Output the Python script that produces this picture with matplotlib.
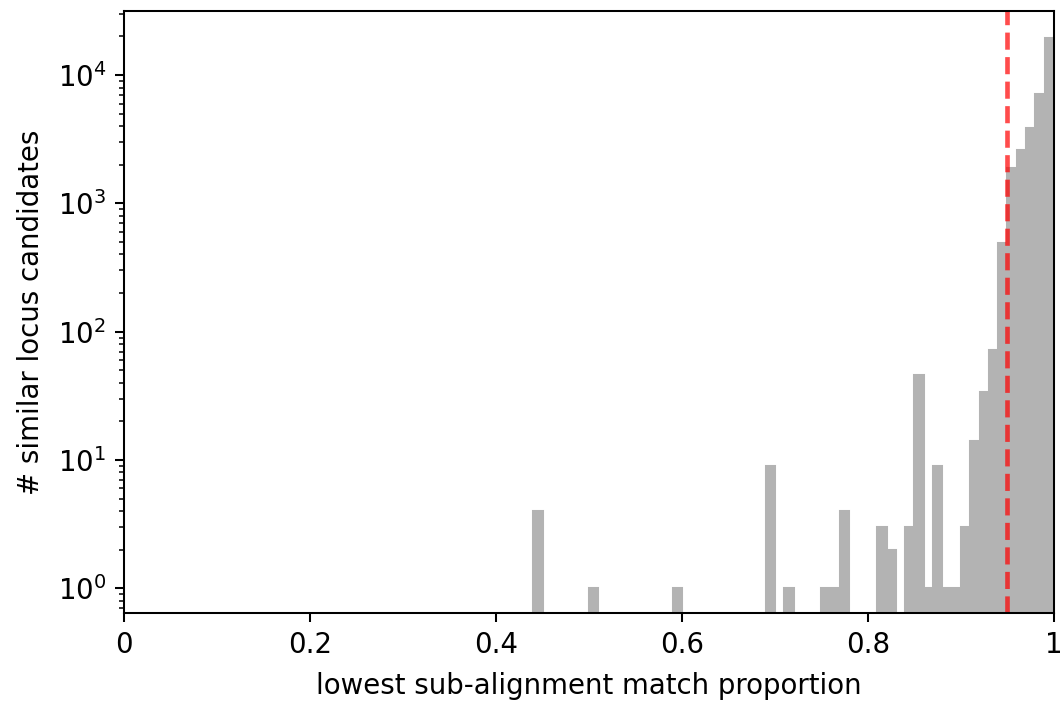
import numpy as np
import matplotlib
matplotlib.use("Agg")
import matplotlib.pyplot as plt
from matplotlib.ticker import FuncFormatter

# histogram bins (left edges, width 0.01) and counts
bin_starts = [0.44, 0.50, 0.59, 0.69, 0.71, 0.75, 0.76, 0.77, 0.81, 0.82,
              0.84, 0.85, 0.86, 0.87, 0.88, 0.89, 0.90, 0.91, 0.92, 0.93,
              0.94, 0.95, 0.96, 0.97, 0.98, 0.99]
counts = [4, 1, 1, 9, 1, 1, 1, 4, 3, 2,
          3, 46, 1, 9, 1, 1, 3, 14, 34, 72,
          494, 1878, 2610, 3890, 7130, 19550]
threshold = 0.95
x_ticks = [0, 0.2, 0.4, 0.6, 0.8, 1.0]

plt.rcParams['font.size'] = 10.75

dpi = 185
fig = plt.figure(figsize=(1063 / dpi, 703 / dpi), dpi=dpi)
ax = fig.add_axes([0.1167, 0.1276, 0.8748, 0.8568])

edges = np.linspace(0, 1, 101)
centers = np.array(bin_starts) + 0.005
ax.hist(centers, bins=edges, weights=counts, histtype='stepfilled',
        facecolor='#b3b3b3', edgecolor='#b3b3b3', linewidth=0.8, log=True)

# threshold line
ax.axvline(threshold, color='red', alpha=0.7, linestyle='--', linewidth=1.8)

ax.set_xlim(0, 1)
ax.set_ylim(0.638, 31600)
ax.set_xticks(x_ticks)
ax.xaxis.set_major_formatter(FuncFormatter(lambda v, p: f"{v:g}"))

ax.set_xlabel("lowest sub-alignment match proportion", labelpad=5)
ax.set_ylabel("# similar locus candidates", labelpad=5)

fig.savefig("out.png", dpi=dpi)
